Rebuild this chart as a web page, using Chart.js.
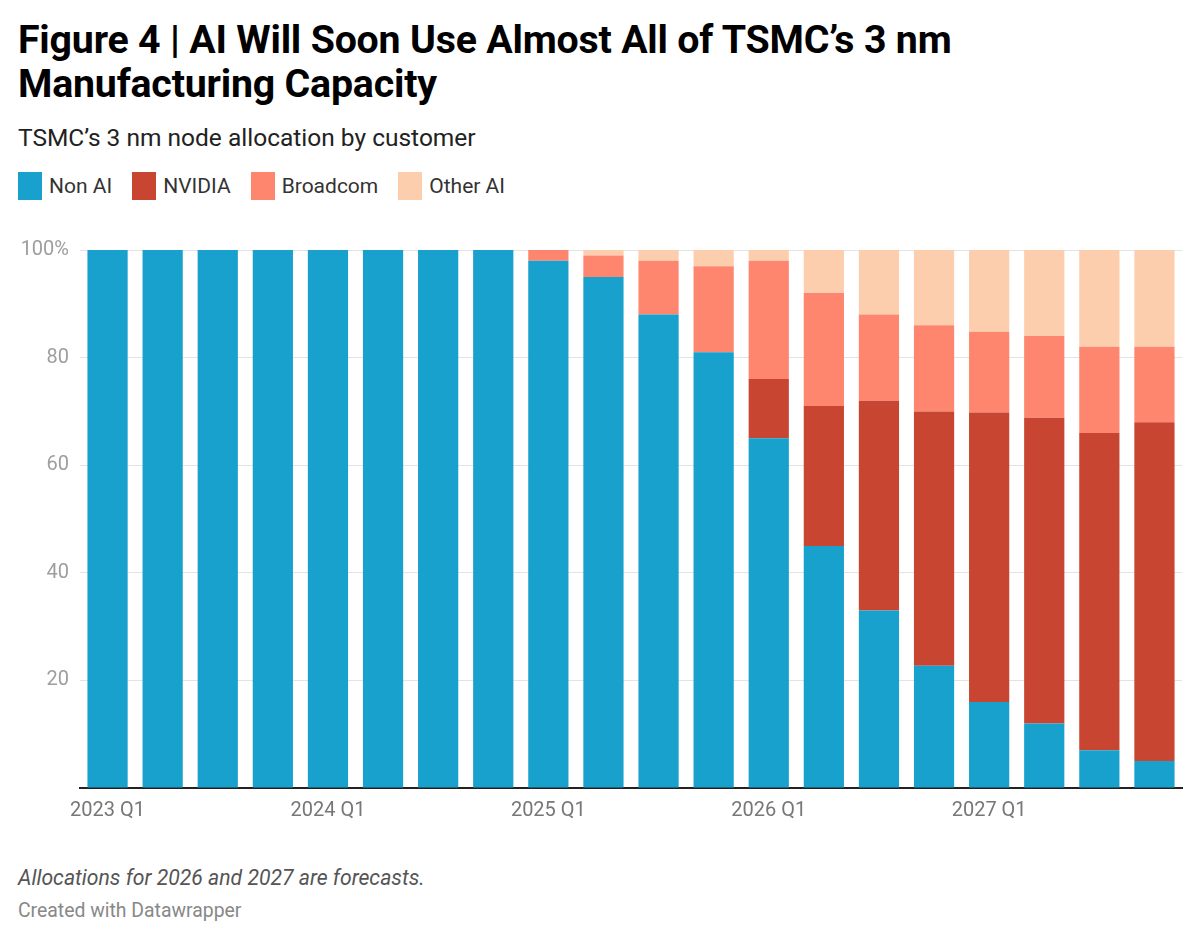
<!DOCTYPE html>
<html>
<head>
<meta charset="utf-8">
<script src="https://cdn.jsdelivr.net/npm/chart.js@4.4.1/dist/chart.umd.min.js"></script>
<style>
    html, body { margin: 0; padding: 0; background: #fff; }
    body { width: 1200px; height: 940px; position: relative; font-family: Roboto, sans-serif; overflow: hidden; }
    h1 { position: absolute; left: 18px; top: 18px; margin: 0; width: 980px; font-size: 39.3px; line-height: 44px; font-weight: 700; color: #000; letter-spacing: -0.2px; }
    .sub { position: absolute; left: 18px; top: 123px; font-size: 24.5px; color: #222; }
    .legend { position: absolute; left: 18px; top: 172px; display: flex; font-size: 21px; color: #333; }
    .legend span { display: flex; align-items: center; margin-right: 20px; }
    .legend i { display: inline-block; width: 24px; height: 28px; margin-right: 7px; }
    .chart-box { position: absolute; left: 0; top: 227px; width: 1200px; height: 612px; }
    .note { position: absolute; left: 18px; top: 865px; font-size: 21.2px; font-style: italic; color: #555; }
    .credit { position: absolute; left: 18px; top: 899px; font-size: 19.4px; color: #888; }
</style>
</head>
<body>
<h1>Figure 4 | AI Will Soon Use Almost All of TSMC’s 3 nm Manufacturing Capacity</h1>
<div class="sub">TSMC’s 3 nm node allocation by customer</div>
<div class="legend" id="legend"></div>
<div class="chart-box"><canvas id="allocChart"></canvas></div>
<div class="note">Allocations for 2026 and 2027 are forecasts.</div>
<div class="credit">Created with Datawrapper</div>

<script>
const quarters = [
    '2023 Q1', '2023 Q2', '2023 Q3', '2023 Q4',
    '2024 Q1', '2024 Q2', '2024 Q3', '2024 Q4',
    '2025 Q1', '2025 Q2', '2025 Q3', '2025 Q4',
    '2026 Q1', '2026 Q2', '2026 Q3', '2026 Q4',
    '2027 Q1', '2027 Q2', '2027 Q3', '2027 Q4'
];
const nonAI    = [100, 100, 100, 100, 100, 100, 100, 100, 98, 95, 88, 81, 65, 45, 33, 22.7, 16, 12, 7, 5];
const nvidia   = [0, 0, 0, 0, 0, 0, 0, 0, 0, 0, 0, 0, 11, 26, 39, 47.3, 53.8, 56.8, 59, 63];
const broadcom = [0, 0, 0, 0, 0, 0, 0, 0, 2, 4, 10, 16, 22, 21, 16, 16, 15, 15.2, 16, 14];
const otherAI  = [0, 0, 0, 0, 0, 0, 0, 0, 0, 1, 2, 3, 2, 8, 12, 14, 15.2, 16, 18, 18];
const yTicks = [0, 20, 40, 60, 80, 100];

const seriesNames = ['Non AI', 'NVIDIA', 'Broadcom', 'Other AI'];
const seriesColors = ['#18a1cd', '#c84532', '#ff866e', '#fdcead'];
const seriesData = [nonAI, nvidia, broadcom, otherAI];

// html legend like the original
const legendEl = document.getElementById('legend');
seriesNames.forEach((name, i) => {
    const item = document.createElement('span');
    item.innerHTML = '<i style="background:' + seriesColors[i] + '"></i>' + name;
    legendEl.appendChild(item);
});

Chart.defaults.font.family = "Roboto, sans-serif";
Chart.defaults.animation = false;

new Chart(document.getElementById('allocChart'), {
    type: 'bar',
    data: {
        labels: quarters,
        datasets: seriesData.map((values, i) => ({
            label: seriesNames[i],
            data: values,
            backgroundColor: seriesColors[i],
            borderWidth: 0,
            barPercentage: 0.73,
            categoryPercentage: 1.0
        }))
    },
    options: {
        responsive: true,
        maintainAspectRatio: false,
        layout: { padding: { top: 10, right: 18, left: 0, bottom: 0 } },
        plugins: { legend: { display: false }, tooltip: { enabled: false } },
        scales: {
            x: {
                stacked: true,
                grid: { display: false, drawTicks: false },
                border: { color: '#222', width: 2 },
                ticks: {
                    autoSkip: false,
                    maxRotation: 0,
                    padding: 11,
                    color: '#777',
                    font: { size: 20 },
                    callback: function (value, index) {
                        return index % 4 === 0 ? quarters[index] : '';
                    }
                },
                afterFit: function (scale) { scale.height = 51; }
            },
            y: {
                stacked: true,
                min: 0,
                max: 100,
                afterBuildTicks: function (scale) {
                    scale.ticks = yTicks.map(v => ({ value: v }));
                },
                grid: { color: '#e3e3e3', lineWidth: 1, drawTicks: false },
                border: { display: false },
                ticks: {
                    padding: 11,
                    color: '#9e9e9e',
                    font: { size: 20 },
                    callback: function (value) {
                        if (value === 0) return '';
                        return value === 100 ? '100%' : value;
                    }
                },
                afterFit: function (scale) { scale.width = 80; }
            }
        }
    }
});
</script>
</body>
</html>
